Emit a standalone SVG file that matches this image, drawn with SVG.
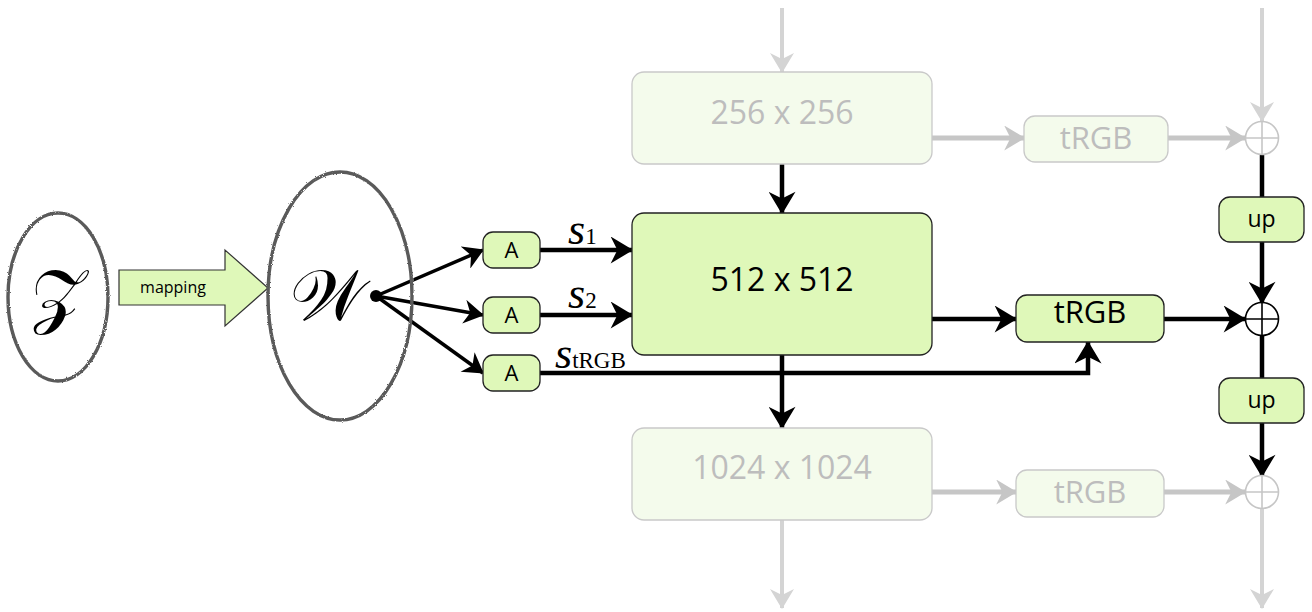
<svg xmlns="http://www.w3.org/2000/svg" width="1312" height="612" viewBox="0 0 1312 612">
<style>
.box{fill:#dff8b9;stroke:#222;stroke-width:1.3}
.fbox{fill:#f4fbec;stroke:#c9c9c9;stroke-width:1.3}
.lbl{font-family:"Open Sans","Noto Sans",sans-serif;text-anchor:middle;fill:#000}
.flbl{font-family:"Open Sans","Noto Sans",sans-serif;text-anchor:middle;fill:#bdbdbd}
.blk{stroke:#000;stroke-width:4.5;fill:none}
.thin{stroke:#000;stroke-width:3.5;fill:none}
.gry{stroke:#c6c6c6;stroke-width:5;fill:none}
.gryv{stroke:#d4d4d4;stroke-width:4;fill:none}
.sk{fill:none;stroke:#5a5a5a;stroke-width:3.4}
.math{font-family:"Liberation Serif","DejaVu Serif",serif;fill:#000}
</style>
<defs>
<marker id="ab" viewBox="0 0 20 24" refX="19" refY="12" markerWidth="24" markerHeight="27" markerUnits="userSpaceOnUse" orient="auto">
<path d="M0,0 L20,12 L0,24 L6,12 z" fill="#000"/>
</marker>
<marker id="at" viewBox="0 0 20 24" refX="19" refY="12" markerWidth="21" markerHeight="24" markerUnits="userSpaceOnUse" orient="auto">
<path d="M0,0 L20,12 L0,24 L6,12 z" fill="#000"/>
</marker>
<marker id="ag" viewBox="0 0 20 24" refX="19" refY="12" markerWidth="23" markerHeight="25" markerUnits="userSpaceOnUse" orient="auto">
<path d="M0,0 L20,12 L0,24 L6,12 z" fill="#c6c6c6"/>
</marker>
<marker id="agv" viewBox="0 0 20 24" refX="19" refY="12" markerWidth="22" markerHeight="24" markerUnits="userSpaceOnUse" orient="auto">
<path d="M0,0 L20,12 L0,24 L6,12 z" fill="#d4d4d4"/>
</marker>
<filter id="rough" x="-10%" y="-10%" width="120%" height="120%">
<feTurbulence type="fractalNoise" baseFrequency="0.9" numOctaves="2" seed="3"/>
<feDisplacementMap in="SourceGraphic" scale="2.5"/>
</filter>
</defs>

<g id="connectors">
<line class="thin" x1="376" y1="296" x2="483" y2="250" marker-end="url(#at)"/>
<line class="thin" x1="376" y1="296" x2="483" y2="315" marker-end="url(#at)"/>
<line class="thin" x1="376" y1="296" x2="483" y2="373" marker-end="url(#at)"/>
<line class="blk" x1="540" y1="250" x2="632" y2="250" marker-end="url(#ab)"/>
<line class="blk" x1="540" y1="315" x2="632" y2="315" marker-end="url(#ab)"/>
<polyline class="blk" points="540,373 1088,373 1088,342" marker-end="url(#ab)"/>
<line class="gryv" x1="782" y1="8" x2="782" y2="72" marker-end="url(#agv)"/>
<line class="blk" x1="782" y1="164" x2="782" y2="213" marker-end="url(#ab)"/>
<line class="blk" x1="782" y1="355" x2="782" y2="428" marker-end="url(#ab)"/>
<line class="gryv" x1="782" y1="520" x2="782" y2="608" marker-end="url(#agv)"/>
<line class="gry" x1="932" y1="138" x2="1024" y2="138" marker-end="url(#ag)"/>
<line class="gry" x1="1168" y1="138" x2="1245" y2="138" marker-end="url(#ag)"/>
<line class="gryv" x1="1262" y1="8" x2="1262" y2="121" marker-end="url(#agv)"/>
<line class="blk" x1="1262" y1="155" x2="1262" y2="197"/>
<line class="blk" x1="1262" y1="242" x2="1262" y2="303" marker-end="url(#ab)"/>
<line class="blk" x1="932" y1="319" x2="1016" y2="319" marker-end="url(#ab)"/>
<line class="blk" x1="1164" y1="319" x2="1245" y2="319" marker-end="url(#ab)"/>
<line class="blk" x1="1262" y1="336" x2="1262" y2="378"/>
<line class="blk" x1="1262" y1="423" x2="1262" y2="476" marker-end="url(#ab)"/>
<line class="gry" x1="932" y1="492" x2="1016" y2="492" marker-end="url(#ag)"/>
<line class="gry" x1="1164" y1="492" x2="1245" y2="492" marker-end="url(#ag)"/>
<line class="gryv" x1="1262" y1="509" x2="1262" y2="608" marker-end="url(#agv)"/>
</g>

<g id="z-space">
<ellipse class="sk" cx="58" cy="297" rx="50" ry="84" filter="url(#rough)"/>
<text class="math" x="58" y="320" font-size="72" text-anchor="middle">𝒵</text>
</g>

<g id="mapping">
<path d="M119,270 L225,270 L225,250 L268,288 L225,326 L225,305 L119,305 z" fill="#dff8b9" stroke="#333" stroke-width="1.2"/>
<text class="lbl" x="173" y="293" font-size="16">mapping</text>
</g>

<g id="w-space">
<ellipse class="sk" cx="340" cy="296" rx="72" ry="124" filter="url(#rough)"/>
<text class="math" x="327" y="320" font-size="72" text-anchor="middle">𝒲</text>
<circle cx="376" cy="296" r="6" fill="#000"/>
</g>

<g id="A1"><rect class="box" x="483" y="232" width="57" height="36" rx="10"/><text class="lbl" x="511.5" y="258" font-size="22">A</text></g>
<g id="A2"><rect class="box" x="483" y="297" width="57" height="36" rx="10"/><text class="lbl" x="511.5" y="323" font-size="22">A</text></g>
<g id="A3"><rect class="box" x="483" y="355" width="57" height="36" rx="10"/><text class="lbl" x="511.5" y="381" font-size="22">A</text></g>

<g id="labels">
<text class="math" x="568" y="244" font-size="44" font-style="italic">s<tspan font-size="23" font-style="normal">1</tspan></text>
<text class="math" x="568" y="308" font-size="44" font-style="italic">s<tspan font-size="23" font-style="normal">2</tspan></text>
<text class="math" x="555" y="368" font-size="44" font-style="italic">s<tspan font-size="23" font-style="normal">tRGB</tspan></text>
</g>

<g id="b256"><rect class="fbox" x="632" y="72" width="300" height="92" rx="12"/><text class="flbl" x="782" y="124" font-size="32">256 x 256</text></g>
<g id="b512"><rect class="box" x="632" y="213" width="300" height="142" rx="12"/><text class="lbl" x="782" y="291" font-size="32">512 x 512</text></g>
<g id="b1024"><rect class="fbox" x="632" y="428" width="300" height="92" rx="12"/><text class="flbl" x="782" y="479" font-size="32">1024 x 1024</text></g>

<g id="trgb1"><rect class="fbox" x="1024" y="116" width="144" height="46" rx="11"/><text class="flbl" x="1096" y="149" font-size="31">tRGB</text></g>
<g id="trgb2"><rect class="box" x="1016" y="295" width="148" height="47" rx="11"/><text class="lbl" x="1090" y="323" font-size="31">tRGB</text></g>
<g id="trgb3"><rect class="fbox" x="1016" y="470" width="148" height="47" rx="11"/><text class="flbl" x="1090" y="503" font-size="31">tRGB</text></g>

<g id="plus1" stroke="#c6c6c6" stroke-width="1.6" fill="#fff"><circle cx="1262" cy="138" r="16.5"/><path d="M1245.5,138 H1278.5 M1262,121.5 V154.5"/></g>
<g id="plus2" stroke="#000" stroke-width="1.6" fill="#fff"><circle cx="1262" cy="319" r="16.5"/><path d="M1245.5,319 H1278.5 M1262,302.5 V335.5"/></g>
<g id="plus3" stroke="#c6c6c6" stroke-width="1.6" fill="#fff"><circle cx="1262" cy="492" r="16.5"/><path d="M1245.5,492 H1278.5 M1262,475.5 V508.5"/></g>

<g id="up1"><rect class="box" x="1219" y="197" width="85" height="45" rx="11"/><text class="lbl" x="1261.5" y="227" font-size="23">up</text></g>
<g id="up2"><rect class="box" x="1219" y="378" width="85" height="45" rx="11"/><text class="lbl" x="1261.5" y="408" font-size="23">up</text></g>
</svg>
